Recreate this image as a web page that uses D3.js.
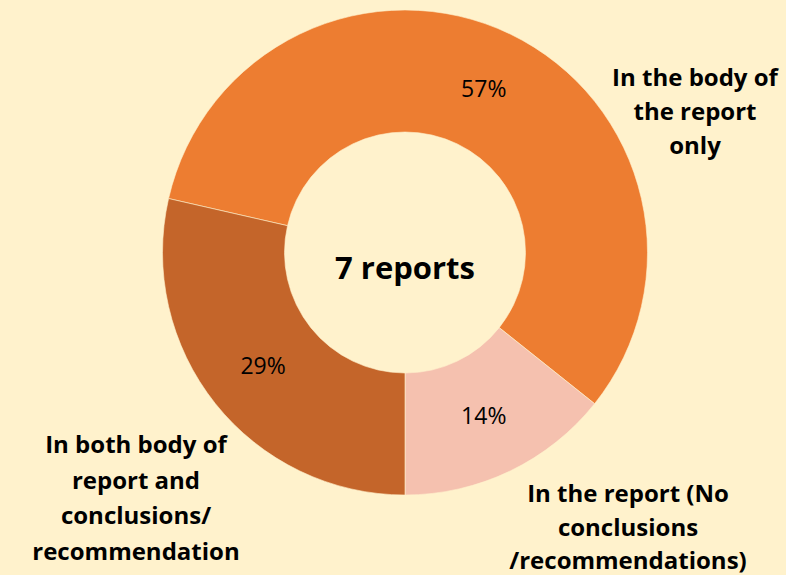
<!DOCTYPE html>
<html lang="en">
<head>
<meta charset="utf-8">
<script src="https://cdn.jsdelivr.net/npm/d3@7"></script>
<style>
  body { margin: 0; background: #FFF2CC; }
  svg { display: block; font-family: "Open Sans", Lato, sans-serif; }
</style>
</head>
<body>
<script>
  // data (7 reports in total)
  const categories = [
    'In the body of the report only',
    'In the report (No conclusions /recommendations)',
    'In both body of report and conclusions/ recommendation'
  ]
  const counts = [4, 1, 2]
  const colours = ['#ED7D31', '#F5C1AF', '#C4652A']
  const labelLines = [
    ['In the body of', 'the report', 'only'],
    ['In the report (No', 'conclusions', '/recommendations)'],
    ['In both body of', 'report and', 'conclusions/', 'recommendation']
  ]
  const centreText = '7 reports'

  const w = 786
  const h = 575
  const cx = 405, cy = 252.5
  const outerR = 242.5, innerR = 120.5

  const svg = d3.select('body')
    .append('svg')
    .attr('width', w)
    .attr('height', h)

  svg.append('rect').attr('width', w).attr('height', h).attr('fill', '#FFF2CC')

  const total = d3.sum(counts)
  // first slice starts so that the small slice ends straight down
  const start = Math.PI - 2 * Math.PI * (counts[0] + counts[1]) / total

  const pie = d3.pie()
    .value(d => d)
    .sort(null)
    .startAngle(start)
    .endAngle(start + 2 * Math.PI)

  const arc = d3.arc().innerRadius(innerR).outerRadius(outerR)

  const g = svg.append('g').attr('transform', `translate(${cx},${cy})`)

  const slices = pie(counts)

  g.selectAll('path')
    .data(slices)
    .enter()
    .append('path')
    .attr('d', arc)
    .attr('fill', (d, i) => colours[i])
    .attr('stroke', '#FFF2CC')
    .attr('stroke-width', 0.6)

  g.selectAll('text.pct')
    .data(slices)
    .enter()
    .append('text')
    .attr('class', 'pct')
    .attr('transform', d => `translate(${arc.centroid(d)})`)
    .attr('text-anchor', 'middle')
    .attr('dy', '0.36em')
    .style('font-size', '23px')
    .style('fill', '#000')
    .text(d => Math.round(d.data / total * 100) + '%')

  g.append('text')
    .attr('text-anchor', 'middle')
    .attr('dy', '0.36em')
    .attr('y', 15)
    .style('font-size', '31px')
    .style('font-weight', 'bold')
    .text(centreText)

  // category labels outside the ring
  const labelPos = [
    {x: 695, y: 86, step: 34},
    {x: 628, y: 502, step: 33.5},
    {x: 136, y: 453, step: 35.5}
  ]

  labelLines.forEach(function(lines, i) {
    const t = svg.append('text')
      .attr('text-anchor', 'middle')
      .style('font-size', '24px')
      .style('font-weight', 'bold')
      .style('fill', '#000')
    t.append('title').text(categories[i])
    lines.forEach(function(line, j) {
      t.append('tspan')
        .attr('x', labelPos[i].x)
        .attr('y', labelPos[i].y + j * labelPos[i].step)
        .text(line)
    })
  })
</script>
</body>
</html>
